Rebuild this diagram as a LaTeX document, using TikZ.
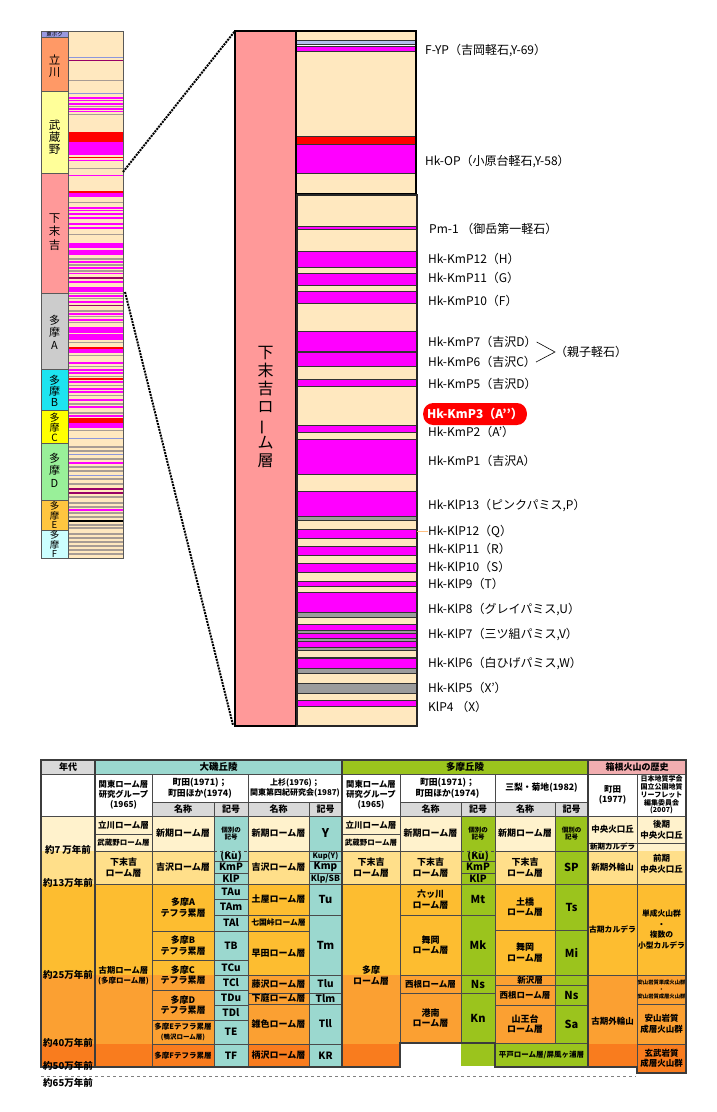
\documentclass[tikz,border=0pt]{standalone}
\usepackage{fontspec}
\setmainfont{Noto Sans CJK JP}
\newcounter{cellno}
\definecolor{beige}{HTML}{FFE8BF}
\definecolor{mag}{HTML}{FF00FF}
\definecolor{dmag}{HTML}{990066}
\definecolor{lred}{HTML}{FF0000}
\definecolor{gry}{HTML}{9C9C9C}
\definecolor{lgr}{HTML}{A89C94}
\definecolor{blu}{HTML}{8C96DC}
\definecolor{lav}{HTML}{B4BEEB}
\definecolor{tobo}{HTML}{9999E0}
\definecolor{tachi}{HTML}{FF9966}
\definecolor{musa}{HTML}{FFFF99}
\definecolor{shimo}{HTML}{FF9999}
\definecolor{tamaA}{HTML}{CCCCCC}
\definecolor{tamaB}{HTML}{1EE4F0}
\definecolor{tamaC}{HTML}{FFFF00}
\definecolor{tamaD}{HTML}{99F099}
\definecolor{tamaE}{HTML}{FFC640}
\definecolor{tamaF}{HTML}{CCFFFF}
\definecolor{teal}{HTML}{9BD8CF}
\definecolor{grn}{HTML}{9BC41D}
\definecolor{hdrgrey}{HTML}{D9D9D9}
\definecolor{pinkh}{HTML}{F2AEB0}
\definecolor{bandA}{HTML}{FFF2CC}
\definecolor{bandB}{HTML}{FFDF8A}
\definecolor{bandC}{HTML}{FDBD30}
\definecolor{bandD}{HTML}{FBA032}
\definecolor{bandE}{HTML}{F97C1E}
\definecolor{cellline}{HTML}{4A4A4A}
\definecolor{framec}{HTML}{3C3C3C}
\newcommand\tcell[8]{%
  \stepcounter{cellno}%
  \path[draw=cellline, line width=0.7pt, fill=#5] (#1,#2) rectangle (#3,#4);
  \node[font=\fontsize{#6}{#7}\selectfont\bfseries, align=center, inner sep=0pt, execute at begin node={\lineskiplimit=-20pt\relax}] (cell\arabic{cellno}) at ({(#1+#3)/2},{(#2+#4)/2}) {#8};%
}
\begin{document}
\begin{tikzpicture}[x=1pt,y=-1pt,
  lab/.style={anchor=west, font=\fontsize{12}{14}\selectfont, inner sep=0pt},
  vlab/.style={align=center, inner sep=0pt, execute at begin node={\lineskiplimit=-20pt\relax}},
  strat/.style={draw=black!80, line width=0.7pt},
  dotline/.style={line width=2pt, densely dotted, black},
  frame/.style={draw=framec, line width=2.5pt},
  agelab/.style={font=\fontsize{9.5}{10}\selectfont\bfseries, inner sep=0pt}]
\useasboundingbox (0,0) rectangle (716,1112);
\fill[white] (0,0) rectangle (716,1112);

% ---------- small column ----------
\fill[beige] (68,31) rectangle (123,558);
\foreach \yy/\hh/\cc in {56.5/0.8/blu, 60/0.9/dmag, 80/0.7/lgr, 93/0.8/blu, 97/1.5/mag, 100/1/mag, 103/1.5/mag, 106/0.8/lgr, 108/1.5/mag, 111/1/mag, 114/0.7/lgr, 132/10/lred, 142/13/mag, 157/1.2/lred, 159.5/1.8/mag, 168/0.7/lgr, 175/1/mag, 191/2/lred, 193/4/mag, 202/0.8/lgr, 207/1.5/mag, 210/1/mag, 213/2/mag, 217/1.5/mag, 223/2/mag, 227/2/mag, 234/0.8/lgr, 243/5/mag, 250/5/mag, 258/1.5/lgr, 261/1.5/mag, 264/1.5/lgr, 267/1.5/mag, 270/1.5/lgr, 273/1/mag, 277/2/dmag, 281/2/mag, 287/5/mag, 292.5/1.5/lgr, 295/1.5/mag, 298/1/lgr, 301/1.5/mag, 305/1/dmag, 310/1.5/lgr, 313/1.5/mag, 316/1/lgr, 319/1.5/mag, 322/1/lgr, 327/6/mag, 334/6/mag, 342/1/lgr, 347/2/lred, 349/4/mag, 355/1/lgr, 362/1.5/mag, 366/1/lgr, 369/1.5/mag, 372/1.5/mag, 376/1/lgr, 378/2/lred, 381/1.5/mag, 385/1/lgr, 388/1.5/mag, 391/2/mag, 395/1/lgr, 399/2/mag, 403/1.5/lgr, 406/1.5/mag, 412/1.5/lgr, 415/2/mag, 418/5/lred, 423/5/mag, 430/1/lgr, 438/1/blu, 446/1.5/lgr, 450/1.5/lgr, 454/1/blu, 458/1.5/lgr, 462/1.5/mag, 466/1.5/lgr, 470/1.5/lgr, 475/1/blu, 478/1.5/lgr, 483/1.5/lgr, 488/1.5/dmag, 492/1.5/dmag, 496/1.5/lgr, 502/1.5/lgr, 506/1.5/lgr, 509/1.5/mag, 512/1.5/lgr, 516/1.5/lgr, 520/1.5/black, 524/1.5/lgr, 527/1.5/lgr, 533/1.5/lgr, 537/1.5/lgr, 541/1.5/lgr, 545/1.5/lgr, 549/1.5/lgr, 553/1.5/lgr}
  { \fill[\cc] (68,\yy) rectangle (123,{\yy+\hh}); }
\draw[gray!70!black, line width=0.6pt] (68,31) rectangle (123,558);
\filldraw[fill=tobo, draw=gray!70!black, line width=0.6pt] (41,31) rectangle (68,37);
\foreach \ya/\yb/\cc in {37/91/tachi, 91/173/musa, 173/293/shimo, 293/369/tamaA, 369/410/tamaB, 410/443/tamaC, 443/500/tamaD, 500/530/tamaE, 530/558/tamaF}
  { \filldraw[fill=\cc, draw=gray!70!black, line width=0.6pt] (41,\ya) rectangle (68,\yb); }
\node[font=\fontsize{5.5}{6}\selectfont, inner sep=0pt] (ntobo) at (54.5,34) {東ボク};
\node[vlab, font=\fontsize{11.5}{12}\selectfont] (ntachi) at (54.5,66) {立\\川};
\node[vlab, font=\fontsize{11.5}{12}\selectfont] (nmusa) at (54.5,137) {武\\蔵\\野};
\node[vlab, font=\fontsize{11.5}{13.5}\selectfont] (nshimo) at (54.5,232) {下\\末\\吉};
\node[vlab, font=\fontsize{11}{12.5}\selectfont] (ntA) at (54.5,332) {多\\摩\\A};
\node[vlab, font=\fontsize{11}{11}\selectfont] (ntB) at (54.5,391) {多\\摩\\B};
\node[vlab, font=\fontsize{10}{10}\selectfont] (ntC) at (54.5,427) {多\\摩\\C};
\node[vlab, font=\fontsize{11}{12.5}\selectfont] (ntD) at (54.5,470) {多\\摩\\D};
\node[vlab, font=\fontsize{9.5}{9.2}\selectfont] (ntE) at (54.5,515) {多\\摩\\E};
\node[vlab, font=\fontsize{9.5}{9.2}\selectfont] (ntF) at (54.5,544) {多\\摩\\F};

% ---------- big column ----------
\filldraw[fill=shimo, draw=black, line width=2pt] (235,31) rectangle (296,726);
\node[vlab, font=\fontsize{16}{18}\selectfont] (bigname) at (265.5,407) {下\\末\\吉\\ロ\\\rotatebox[origin=c]{90}{ー}\\ム\\層};
\foreach \ya/\yb/\cc in {31/40/beige, 40.5/44.5/lav, 46/51/mag, 51/136/beige, 136/144/lred, 144/173/mag, 173/194/beige}
  { \filldraw[strat, fill=\cc] (296,\ya) rectangle (416,\yb); }
\draw[black, line width=2pt] (296,31) rectangle (416,194);
\foreach \ya/\yb/\cc in {195/226/beige, 226/229/mag, 229/251/beige, 251/267/mag, 267/273/beige, 273/285/mag, 285/291/beige, 291/303/mag, 303/331/beige, 331/351/mag, 352/366/mag, 366/379/beige, 379/386/mag, 386/425/beige, 425/432/mag, 432/439/beige, 439/474/mag, 474/491/beige, 491/516/mag, 516/520/gry, 520/529/beige, 529/538/mag, 538/546/beige, 546/555/mag, 555/563/beige, 563/572/mag, 572/581/beige, 581/586/mag, 586/592/beige, 592/612/mag, 612/617/gry, 617/624/beige, 624/630/mag, 630/633/gry, 633/638/mag, 638/641/gry, 641/647/mag, 647/650/gry, 650/657/beige, 658/668/mag, 668/673/gry, 673/683/beige, 683/693/gry, 693/700/beige, 700/706/mag, 706/726/beige}
  { \filldraw[strat, fill=\cc] (297,\ya) rectangle (417,\yb); }
\draw[black!85, line width=1.6pt] (297,195) rectangle (417,726);

% dotted connectors
\coordinate (sA) at (123,172);
\coordinate (bT) at (235,31);
\coordinate (sB) at (125,292);
\coordinate (bB) at (233,725);
\draw[dotline] (sA) -- (bT);
\draw[dotline] (sB) -- (bB);

% ---------- labels ----------
\node[lab] (l1) at (425,50) {F-YP（吉岡軽石,Y-69）};
\node[lab] (l2) at (425,161) {Hk-OP（小原台軽石,Y-58）};
\node[lab] (l3) at (429,229) {Pm-1 （御岳第一軽石）};
\node[lab] (l4) at (428,259) {Hk-KmP12（H）};
\node[lab] (l5) at (428,278) {Hk-KmP11（G）};
\node[lab] (l6) at (428,301) {Hk-KmP10（F）};
\node[lab] (l7) at (428,342) {Hk-KmP7（吉沢D）};
\node[lab] (l8) at (428,362) {Hk-KmP6（吉沢C）};
\node[lab] (l9) at (428,384) {Hk-KmP5（吉沢D）};
\node[anchor=west, fill=lred, rounded corners=10pt, text=white, font=\fontsize{12}{14}\selectfont\bfseries, minimum height=22pt, inner xsep=4pt, inner ysep=0pt] (l10) at (423,414) {Hk-KmP3（A’’）};
\node[lab] (l11) at (428,432) {Hk-KmP2（A’）};
\node[lab] (l12) at (428,461) {Hk-KmP1（吉沢A）};
\node[lab] (l13) at (428,505) {Hk-KlP13（ピンクパミス,P）};
\node[lab] (l14) at (428,531) {Hk-KlP12（Q）};
\node[lab] (l15) at (428,549) {Hk-KlP11（R）};
\node[lab] (l16) at (428,567) {Hk-KlP10（S）};
\node[lab] (l17) at (428,584) {Hk-KlP9（T）};
\node[lab] (l18) at (428,609) {Hk-KlP8（グレイパミス,U）};
\node[lab] (l19) at (428,634) {Hk-KlP7（三ツ組パミス,V）};
\node[lab] (l20) at (428,663) {Hk-KlP6（白ひげパミス,W）};
\node[lab] (l21) at (428,688) {Hk-KlP5（X’）};
\node[lab] (l22) at (428,707) {KlP4 （X）};
\coordinate (brk) at (555,352);
\draw[line width=0.6pt] (l7.east) -- (brk) -- (l8.east);
\node[lab] (oyako) at (brk) {（親子軽石）};
\draw[orange!50, line width=0.5pt] (417,531) -- (l14.west);

% ---------- table ----------
\fill[white] (41,760) rectangle (686,816);
\fill[bandA] (41,816) rectangle (686,851);
\fill[bandB] (41,851) rectangle (686,884);
\fill[bandC] (41,884) rectangle (686,975);
\fill[bandD] (41,975) rectangle (686,1044);
\fill[bandE] (41,1044) rectangle (686,1067);
\fill[bandE] (637,1067) rectangle (686,1073);
\fill[white] (400,1043) rectangle (495,1069);
\fill[grn] (461,1043) rectangle (495,1066);

\tcell{41}{760}{95}{774}{hdrgrey}{9}{10}{年代}
\tcell{95}{760}{342}{774}{teal}{9.5}{10}{大磯丘陵}
\tcell{342}{760}{588}{774}{grn}{9.5}{10}{多摩丘陵}
\tcell{588}{760}{686}{774}{pinkh}{9}{10}{箱根火山の歴史}

\tcell{41}{774}{95}{816}{white}{9}{10}{}
\tcell{95}{774}{152}{816}{white}{8.3}{10}{関東ローム層\\研究グループ\\(1965)}
\tcell{152}{774}{248}{802}{white}{8.8}{10.5}{町田(1971)；\\町田ほか(1974)}
\tcell{248}{774}{342}{802}{white}{8}{10.5}{上杉(1976)；\\関東第四紀研究会(1987)}
\tcell{152}{802}{214}{816}{hdrgrey}{9}{10}{名称}
\tcell{214}{802}{248}{816}{hdrgrey}{9}{10}{記号}
\tcell{248}{802}{309}{816}{hdrgrey}{9}{10}{名称}
\tcell{309}{802}{342}{816}{hdrgrey}{9}{10}{記号}
\tcell{342}{774}{400}{816}{white}{8.3}{10}{関東ローム層\\研究グループ\\(1965)}
\tcell{400}{774}{495}{802}{white}{8.8}{10.5}{町田(1971)；\\町田ほか(1974)}
\tcell{495}{774}{588}{802}{white}{8.8}{10}{三梨・菊地(1982)}
\tcell{400}{802}{461}{816}{hdrgrey}{9}{10}{名称}
\tcell{461}{802}{495}{816}{hdrgrey}{9}{10}{記号}
\tcell{495}{802}{555}{816}{hdrgrey}{9}{10}{名称}
\tcell{555}{802}{588}{816}{hdrgrey}{9}{10}{記号}
\tcell{588}{774}{637}{816}{white}{8.5}{10.5}{町田\\(1977)}
\tcell{637}{774}{686}{816}{white}{7}{7.8}{日本地質学会\\国立公園地質\\リーフレット\\編集委員会\\(2007)}

% Oiso
\tcell{95}{816}{152}{834}{none}{8.5}{10}{立川ローム層}
\tcell{95}{834}{152}{851}{none}{7.5}{10}{武蔵野ローム層}
\tcell{152}{816}{214}{851}{none}{9}{10}{新期ローム層}
\tcell{214}{816}{248}{851}{teal}{6.5}{7.5}{個別の\\記号}
\tcell{248}{816}{309}{851}{none}{9}{10}{新期ローム層}
\tcell{309}{816}{342}{851}{teal}{12}{12}{Y}
\tcell{95}{851}{152}{884}{none}{9}{10.5}{下末吉\\ローム層}
\tcell{152}{851}{214}{884}{none}{9}{10}{吉沢ローム層}
\tcell{214}{851}{248}{861}{teal}{10}{10}{(Ku)}
\tcell{214}{861}{248}{873}{teal}{10}{10}{KmP}
\tcell{214}{873}{248}{884}{teal}{10}{10}{KlP}
\tcell{248}{851}{309}{884}{none}{9}{10}{吉沢ローム層}
\tcell{309}{851}{342}{861}{teal}{7.5}{8}{Kup(Y)}
\tcell{309}{861}{342}{873}{teal}{10}{10}{Kmp}
\tcell{309}{873}{342}{884}{teal}{8.5}{10}{Klp/SB}
\tcell{95}{884}{152}{1067}{none}{8.3}{10.5}{古期ローム層\\{\fontsize{7.5}{9}\selectfont (多摩ローム層)}}
\tcell{152}{884}{214}{931}{none}{9}{10.5}{多摩A\\テフラ累層}
\tcell{214}{884}{248}{899}{teal}{10}{10}{TAu}
\tcell{214}{899}{248}{915}{teal}{10}{10}{TAm}
\tcell{214}{915}{248}{931}{teal}{10}{10}{TAl}
\tcell{248}{884}{309}{915}{none}{9}{10}{土屋ローム層}
\tcell{309}{884}{342}{915}{teal}{11}{11}{Tu}
\tcell{248}{915}{309}{931}{none}{7.8}{10}{七国峠ローム層}
\tcell{309}{915}{342}{975}{teal}{11}{11}{Tm}
\tcell{152}{931}{214}{960}{none}{9}{10.5}{多摩B\\テフラ累層}
\tcell{214}{931}{248}{960}{teal}{10}{10}{TB}
\tcell{248}{931}{309}{975}{none}{9}{10}{早田ローム層}
\tcell{152}{960}{214}{990}{none}{9}{10.5}{多摩C\\テフラ累層}
\tcell{214}{960}{248}{975}{teal}{10}{10}{TCu}
\tcell{214}{975}{248}{990}{teal}{10}{10}{TCl}
\tcell{248}{975}{309}{993}{none}{9}{10}{藤沢ローム層}
\tcell{309}{975}{342}{993}{teal}{10}{10}{Tlu}
\tcell{248}{993}{309}{1004}{none}{9}{10}{下庭ローム層}
\tcell{309}{993}{342}{1004}{teal}{10}{10}{Tlm}
\tcell{152}{990}{214}{1020}{none}{9}{10.5}{多摩D\\テフラ累層}
\tcell{214}{990}{248}{1005}{teal}{10}{10}{TDu}
\tcell{214}{1005}{248}{1020}{teal}{10}{10}{TDl}
\tcell{248}{1004}{309}{1044}{none}{9}{10}{雑色ローム層}
\tcell{309}{1004}{342}{1044}{teal}{10}{10}{Tll}
\tcell{152}{1020}{214}{1044}{none}{7.5}{9.5}{多摩Eテフラ累層\\{\fontsize{6.5}{8}\selectfont (鴨沢ローム層)}}
\tcell{214}{1020}{248}{1044}{teal}{10}{10}{TE}
\tcell{152}{1044}{214}{1067}{none}{7.5}{9}{多摩Fテフラ累層}
\tcell{214}{1044}{248}{1067}{teal}{10}{10}{TF}
\tcell{248}{1044}{309}{1067}{none}{9}{10}{柄沢ローム層}
\tcell{309}{1044}{342}{1067}{teal}{10}{10}{KR}
\draw[teal, line width=1pt] (214.5,851) -- (247.5,851);
\draw[cellline, line width=0.7pt, dashed] (214,851) -- (248,851);

% Tama
\tcell{342}{816}{400}{834}{none}{8.5}{10}{立川ローム層}
\tcell{342}{834}{400}{851}{none}{7.5}{10}{武蔵野ローム層}
\tcell{400}{816}{461}{851}{none}{9}{10}{新期ローム層}
\tcell{461}{816}{495}{851}{grn}{6.5}{7.5}{個別の\\記号}
\tcell{495}{816}{555}{851}{none}{9}{10}{新期ローム層}
\tcell{555}{816}{588}{851}{grn}{6.5}{7.5}{個別の\\記号}
\tcell{342}{851}{400}{884}{none}{9}{10.5}{下末吉\\ローム層}
\tcell{400}{851}{461}{884}{none}{9}{10.5}{下末吉\\ローム層}
\tcell{461}{851}{495}{861}{grn}{10}{10}{(Ku)}
\tcell{461}{861}{495}{873}{grn}{10}{10}{KmP}
\tcell{461}{873}{495}{884}{grn}{10}{10}{KlP}
\tcell{495}{851}{555}{884}{none}{9}{10.5}{下末吉\\ローム層}
\tcell{555}{851}{588}{884}{grn}{11}{11}{SP}
\tcell{342}{884}{400}{1067}{none}{9}{10.5}{多摩\\ローム層}
\tcell{400}{884}{461}{915}{none}{9}{10.5}{六ッ川\\ローム層}
\tcell{461}{884}{495}{915}{grn}{11}{11}{Mt}
\tcell{400}{915}{461}{975}{none}{9}{10.5}{舞岡\\ローム層}
\tcell{461}{915}{495}{975}{grn}{11}{11}{Mk}
\tcell{400}{975}{461}{993}{none}{8.5}{10}{西根ローム層}
\tcell{461}{975}{495}{993}{grn}{11}{11}{Ns}
\tcell{400}{993}{461}{1043}{none}{9}{10.5}{港南\\ローム層}
\tcell{461}{993}{495}{1043}{grn}{11}{11}{Kn}
\tcell{495}{884}{555}{930}{none}{9}{10.5}{土橋\\ローム層}
\tcell{555}{884}{588}{930}{grn}{11}{11}{Ts}
\tcell{495}{930}{555}{975}{none}{9}{10.5}{舞岡\\ローム層}
\tcell{555}{930}{588}{975}{grn}{11}{11}{Mi}
\tcell{495}{975}{555}{985}{none}{8.5}{9}{\hspace*{10pt}新沢層}
\tcell{555}{975}{588}{985}{grn}{8}{8}{}
\tcell{495}{985}{555}{1005}{none}{8.5}{10}{西根ローム層}
\tcell{555}{985}{588}{1005}{grn}{11}{11}{Ns}
\tcell{495}{1005}{555}{1043}{none}{9}{10.5}{山王台\\ローム層}
\tcell{555}{1005}{588}{1043}{grn}{11}{11}{Sa}
\tcell{495}{1043}{588}{1067}{grn}{7.5}{9}{平戸ローム層/屏風ヶ浦層}
\draw[grn, line width=1pt] (461.5,851) -- (494.5,851);
\draw[cellline, line width=0.7pt, dashed] (461,851) -- (495,851);

% Hakone
\tcell{588}{816}{637}{843}{none}{8.5}{10}{中央火口丘}
\tcell{637}{816}{686}{843}{none}{8.5}{10.5}{後期\\中央火口丘}
\tcell{588}{843}{637}{851}{none}{7.5}{8}{新期カルデラ}
\tcell{588}{851}{637}{884}{none}{8.5}{10}{新期外輪山}
\tcell{637}{843}{686}{884}{none}{8.5}{10.5}{前期\\中央火口丘}
\tcell{588}{884}{637}{975}{none}{7.8}{10}{古期カルデラ}
\tcell{637}{884}{686}{975}{none}{7.8}{10.5}{単成火山群\\・\\複数の\\小型カルデラ}
\tcell{588}{975}{637}{1067}{none}{8.5}{10}{古期外輪山}
\tcell{637}{975}{686}{1004}{none}{5.3}{7}{安山岩質単成火山群\\・\\安山岩質成層火山群}
\tcell{637}{1004}{686}{1044}{none}{8.5}{10.5}{安山岩質\\成層火山群}
\tcell{637}{1044}{686}{1073}{none}{8.5}{10.5}{玄武岩質\\成層火山群}

% frames
\draw[frame] (41,760) -- (686,760) -- (686,1073) -- (637,1073) -- (637,1067) -- (495,1067) -- (495,1043) -- (400,1043) -- (400,1067) -- (41,1067) -- cycle;
\draw[frame] (95,760) -- (95,1067);
\draw[frame] (342,760) -- (342,1067);
\draw[frame] (588,760) -- (588,1067);
\draw[gray, line width=0.6pt, dashed] (41,1076) -- (636,1076);

% ages
\node[agelab] (a1) at (68,850) {約7 万年前};
\node[agelab] (a2) at (68,883) {約13万年前};
\node[agelab] (a3) at (68,975) {約25万年前};
\node[agelab] (a4) at (68,1043) {約40万年前};
\node[agelab] (a5) at (68,1066) {約50万年前};
\node[agelab] (a6) at (68,1083) {約65万年前};
\end{tikzpicture}
\end{document}
